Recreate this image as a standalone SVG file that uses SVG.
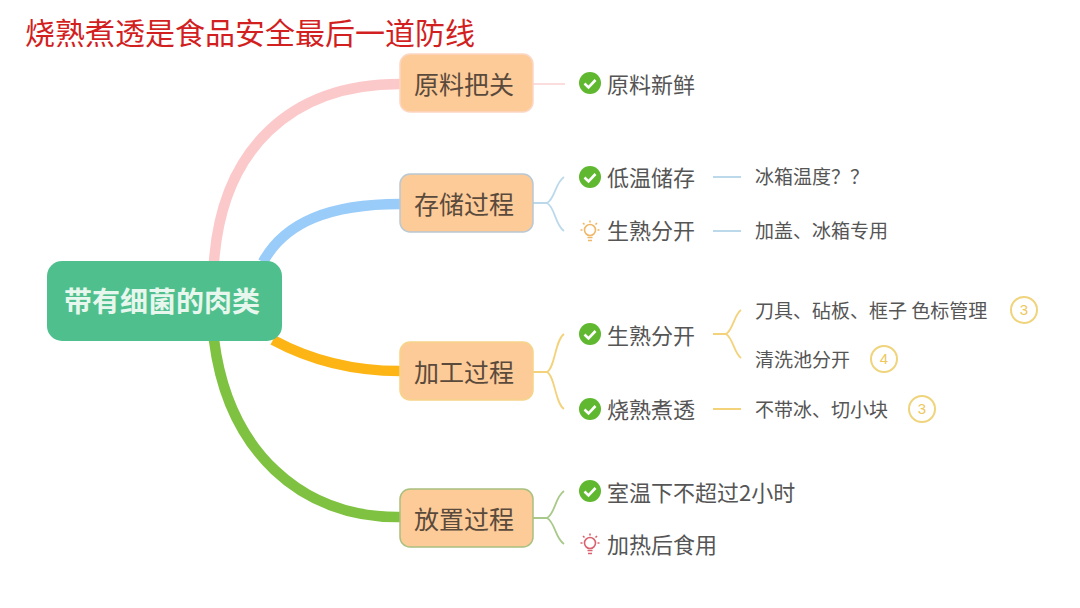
<svg xmlns="http://www.w3.org/2000/svg" width="1080" height="608" viewBox="0 0 1080 608">
<defs>
<style>
text{font-family:"Noto Sans CJK SC","Liberation Sans",sans-serif;}
.t{font-size:30px;fill:#d21f1f;}
.b{font-size:25px;fill:#5a4a3c;text-anchor:middle;}
.l1{font-size:22px;fill:#555;}
.l2{font-size:19px;fill:#555;}
.n{font-size:15px;fill:#eec85c;text-anchor:middle;font-family:"Liberation Sans",sans-serif;}
.box{fill:#fdcb98;stroke-width:1.5;}
.thick{fill:none;stroke-width:10.5;}
.thin{fill:none;stroke-width:1.8;}
.ring{fill:#fff;stroke:#efd47c;stroke-width:2;}
</style>
<g id="chk"><circle r="11" fill="#5fb82f"/><path d="M-5.5 0.5 L-1.5 4.5 L5.5 -3" fill="none" stroke="#fff" stroke-width="2.6"/></g>
<g id="bulb" fill="none" stroke-width="1.6"><circle cx="0" cy="-2" r="5.5"/><path d="M-2.5 5.5H2.5M-2 8.5H2M-9.5 -2H-7.5M7.5 -2H9.5M-7 -9L-5.5 -7.5M7 -9L5.5 -7.5M0 -11.5V-9.5"/></g>
</defs>
<rect width="1080" height="608" fill="#fff"/>
<text class="t" x="25" y="44">烧熟煮透是食品安全最后一道防线</text>
<g id="connectors">
<path class="thick" stroke="#fcc9cb" d="M214 262C222 150 290 84 400 84"/>
<path class="thick" stroke="#99ccf9" d="M263 262C285 222 330 204 400 204"/>
<path class="thick" stroke="#fdb515" d="M273 340C310 360 350 371 400 371"/>
<path class="thick" stroke="#7fc241" d="M214 340C228 450 300 518 400 517"/>
<path class="thin" stroke="#fbdada" d="M533 84H565"/>
<path class="thin" stroke="#bcd9ec" d="M533 203H547M547 203C555 199 555 183 564 177M547 203C555 207 555 225 564 231"/>
<path class="thin" stroke="#bcd9ec" d="M713 177H741M713 231H741"/>
<path class="thin" stroke="#f3d27a" d="M533 372H547M547 372C555 368 555 340 564 334M547 372C555 376 555 403 564 409"/>
<path class="thin" stroke="#f3d27a" d="M713 334H726M726 334C733 330 734 315 741 310M726 334C733 338 734 353 741 358M713 409H741"/>
<path class="thin" stroke="#a9c98a" d="M533 518H547M547 518C555 514 555 497 564 491M547 518C555 522 555 538 564 544"/>
</g>
<g id="root"><rect x="47" y="261" width="235" height="80" rx="15" fill="#4fc08d"/><text x="162" y="312" font-size="28" font-weight="700" fill="#e8f7ee" text-anchor="middle">带有细菌的肉类</text></g>
<g id="n1"><rect class="box" x="400" y="54" width="133" height="58" rx="10" stroke="#fcd6c4"/><text class="b" x="464" y="94">原料把关</text></g>
<g id="n2"><rect class="box" x="400" y="174" width="133" height="58" rx="10" stroke="#b9c8d2"/><text class="b" x="464" y="214">存储过程</text></g>
<g id="n3"><rect class="box" x="400" y="342" width="133" height="58" rx="10" stroke="#f6d489"/><text class="b" x="464" y="382">加工过程</text></g>
<g id="n4"><rect class="box" x="400" y="489" width="133" height="58" rx="10" stroke="#a9c07e"/><text class="b" x="464" y="529">放置过程</text></g>
<g id="a1"><use href="#chk" x="590" y="83"/><text class="l1" x="607" y="93">原料新鲜</text></g>
<g id="b1"><use href="#chk" x="590" y="177"/><text class="l1" x="607" y="186">低温储存</text></g>
<g id="b1a"><text class="l2" x="755" y="184">冰箱温度？？</text></g>
<g id="b2"><use href="#bulb" x="590" y="232" stroke="#eeb868"/><text class="l1" x="607" y="239">生熟分开</text></g>
<g id="b2a"><text class="l2" x="755" y="238">加盖、冰箱专用</text></g>
<g id="c1"><use href="#chk" x="590" y="334"/><text class="l1" x="607" y="344">生熟分开</text></g>
<g id="c1a"><text class="l2" x="755" y="318">刀具、砧板、框子 色标管理</text><circle class="ring" cx="1024" cy="310" r="13"/><text class="n" x="1024" y="315">3</text></g>
<g id="c1b"><text class="l2" x="755" y="367">清洗池分开</text><circle class="ring" cx="884" cy="359" r="13"/><text class="n" x="884" y="364">4</text></g>
<g id="c2"><use href="#chk" x="590" y="409"/><text class="l1" x="607" y="418">烧熟煮透</text></g>
<g id="c2a"><text class="l2" x="755" y="417">不带冰、切小块</text><circle class="ring" cx="922" cy="409" r="13"/><text class="n" x="922" y="414">3</text></g>
<g id="d1"><use href="#chk" x="590" y="491"/><text class="l1" x="607" y="501">室温下不超过2小时</text></g>
<g id="d2"><use href="#bulb" x="590" y="545" stroke="#d9616e"/><text class="l1" x="607" y="553">加热后食用</text></g>
</svg>
